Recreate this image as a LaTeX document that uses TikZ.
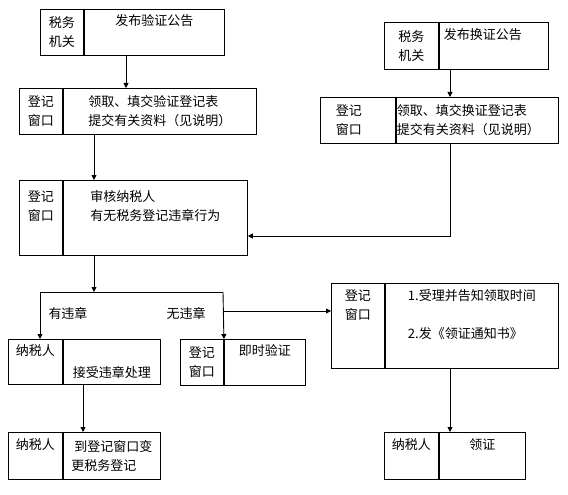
\documentclass[tikz,border=0pt]{standalone}
\usepackage{fontspec}
\newfontfamily\cjk{Noto Sans CJK SC}
\usepackage{tikz}
\usetikzlibrary{arrows.meta,positioning}
\tikzset{
  cell/.style={rectangle,draw=black,line width=0.9pt,anchor=north west,
               inner sep=0pt,align=center,text=black},
  lbl/.style={inner sep=1pt,text=black},
  arr/.style={-{Triangle[length=5pt,width=5pt]},line width=0.9pt,draw=black},
  link/.style={line width=0.9pt,draw=black},
}

\begin{document}
\begin{tikzpicture}[x=1pt,y=-1pt,font=\cjk\fontsize{13}{19}\selectfont]
  \useasboundingbox (0,0) rectangle (568,495);
  % left column
  \node[cell,minimum width=43pt,minimum height=46pt] (aL) at (40,9) {税务\\机关};
  \node[cell,minimum width=140pt,minimum height=46pt] (aR) at (aL.north east) {发布验证公告\\\strut};
  \node[cell,minimum width=43pt,minimum height=46pt] (bL) at (19,88) {登记\\窗口};
  \node[cell,minimum width=193pt,minimum height=46pt,align=left] (bR) at (bL.north east)
    {领取、填交验证登记表\\提交有关资料（见说明）};
  \node[cell,minimum width=43pt,minimum height=75pt] (cL) at (19,180) {登记\\窗口\\\strut};
  \node[cell,minimum width=184pt,minimum height=75pt,align=left] (cR) at (cL.north east)
    {审核纳税人\\有无税务登记违章行为\\\strut};
  % right column
  \node[cell,minimum width=54pt,minimum height=47pt] (dL) at (384,22) {税务\\机关};
  \node[cell,minimum width=109pt,minimum height=47pt,align=left] (dR) at (dL.north east)
    {发布换证公告\hspace*{22pt}\\\strut};
  \node[cell,minimum width=75pt,minimum height=46pt,align=left] (eL) at (320,97)
    {登记\hspace*{18pt}\\窗口};
  \node[cell,minimum width=162pt,minimum height=46pt,align=left] (eR) at (eL.north east)
    {领取、填交换证登记表\\提交有关资料（见说明）\hspace*{18pt}};
  \node[cell,minimum width=53pt,minimum height=85pt] (fL) at (331,283) {登记\\窗口\\\strut\\\strut};
  \node[cell,minimum width=173pt,minimum height=85pt,align=left] (fR) at (fL.north east)
    {1.受理并告知领取时间\\\strut\\2.发《领证通知书》\\\strut};
  % lower row
  \node[cell,minimum width=54pt,minimum height=45pt] (gL) at (8,339) {纳税人\\\strut};
  \node[cell,minimum width=97pt,minimum height=45pt] (gR) at (gL.north east) {\strut\\接受违章处理};
  \node[cell,minimum width=43pt,minimum height=46pt] (hL) at (180,339) {登记\\窗口};
  \node[cell,minimum width=81pt,minimum height=46pt] (hR) at (hL.north east) {即时验证\\\strut};
  \node[cell,minimum width=54pt,minimum height=47pt] (iL) at (8,432) {纳税人\\\strut};
  \node[cell,minimum width=97pt,minimum height=47pt,align=left] (iR) at (iL.north east)
    {\ 到登记窗口变\\更税务登记};
  \node[cell,minimum width=54pt,minimum height=47pt] (jL) at (384,432) {纳税人\\\strut};
  \node[cell,minimum width=86pt,minimum height=47pt] (jR) at (jL.north east) {领证\\\strut};
  % branch labels
  \node[lbl] (yes) at (68,313) {有违章};
  \node[lbl] (no) at (186,313) {无违章};
  % connectors
  \coordinate (fork) at (94,292);
  \coordinate (forkL) at (40,292);
  \coordinate (forkR) at (223,292);
  \draw[arr] (aR.south -| 126,0) -- (bR.north -| 126,0);
  \draw[arr] (bR.south -| 94,0) -- (cR.north -| 94,0);
  \draw[arr] (dR.south -| 450,0) -- (eR.north -| 450,0);
  \draw[arr] (eR.south -| 450,0) |- (cR.east |- 0,236);
  \draw[arr] (cR.south -| fork) -- (fork);
  \draw[link] (forkL) -- (forkR);
  \draw[arr] (forkL) -- (gL.north -| forkL);
  \draw[arr] (forkR) -- (hL.north east);
  \draw[arr] (forkR |- 0,311) -- (fL.west |- 0,311);
  \draw[arr] (gR.south -| 83,0) -- (iR.north -| 83,0);
  \draw[arr] (fR.south -| 450,0) -- (jR.north -| 450,0);
\end{tikzpicture}
\end{document}
